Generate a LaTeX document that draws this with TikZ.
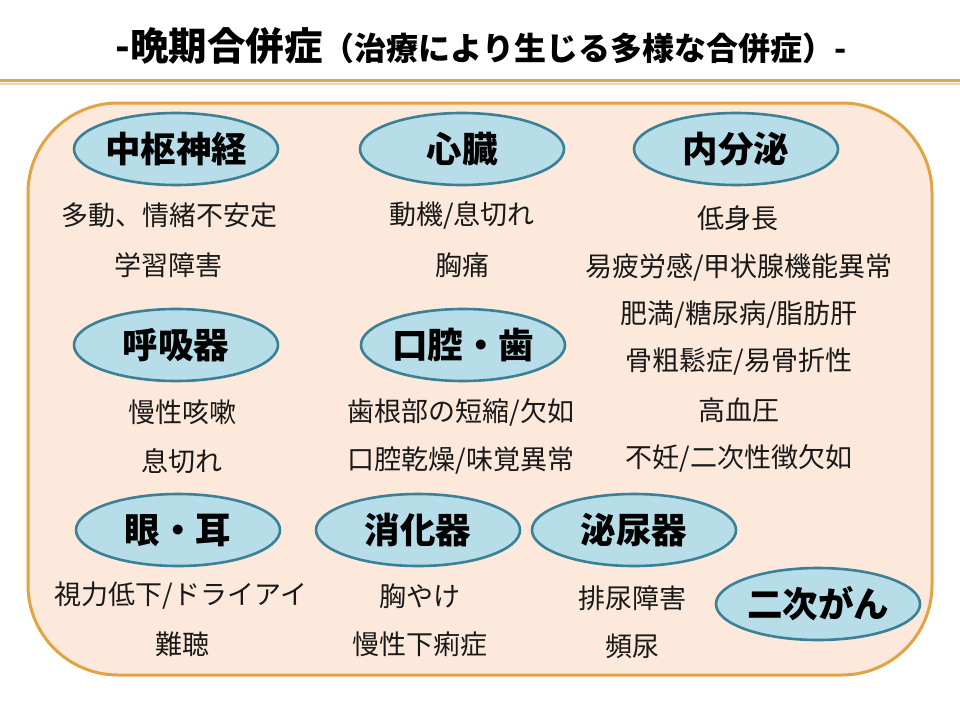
\documentclass[tikz,border=0pt]{standalone}
\usepackage{fontspec}
\setmainfont{Noto Sans CJK JP}
\usetikzlibrary{shapes.geometric}
\definecolor{framecol}{RGB}{226,163,68}
\definecolor{framefill}{RGB}{252,233,219}
\definecolor{ovalfill}{RGB}{183,221,232}
\definecolor{ovalline}{RGB}{58,128,150}
\definecolor{rulecol}{RGB}{226,166,72}
\tikzset{
  organ/.style={ellipse, draw=ovalline, line width=2.6pt, fill=ovalfill,
    minimum width=204pt, minimum height=72pt, inner sep=0pt,
    font=\bfseries\fontsize{35.5}{38}\selectfont},
  item/.style={inner sep=0pt, font=\fontsize{27}{30}\selectfont, text=black!90}
}
\begin{document}
\begin{tikzpicture}[x=1pt,y=-1pt]
\useasboundingbox[fill=white] (0,0) rectangle (960,720);
% title
\node[inner sep=0pt] (title) at (481,46)
  {\bfseries\fontsize{38.5}{42}\selectfont -晩期合併症\fontsize{32}{36}\selectfont （治療により生じる多様な合併症）-};
% rule
\draw[rulecol!45, line width=2pt] (0,83.5) -- (960,83.5);
\draw[rulecol, line width=3pt] (0,80) -- (960,80);
% frame
\draw[framecol, fill=framefill, line width=3pt, rounded corners=90pt] (28,103) rectangle (932,675);
% organ ellipses
\node[organ] (cns) at (176,149) {中枢神経};
\node[organ] (heart) at (462,149) {心臓};
\node[organ] (endo) at (736,149) {内分泌};
\node[organ] (resp) at (176,345) {呼吸器};
\node[organ] (oral) at (463,345) {口腔・歯};
\node[organ] (eye) at (178,530) {眼・耳};
\node[organ] (gi) at (418,530) {消化器};
\node[organ] (uro) at (634,530) {泌尿器};
\node[organ] (cancer) at (818,604) {二次がん};
% items
\node[item] (cns1) at (169,215) {多動、情緒不安定};
\node[item] (cns2) at (168,265) {学習障害};
\node[item] (h1) at (462,215) {動機/息切れ};
\node[item] (h2) at (462,265) {胸痛};
\node[item] (e1) at (738,218) {低身長};
\node[item] (e2) at (739,267) {易疲労感/甲状腺機能異常};
\node[item] (e3) at (739,315) {肥満/糖尿病/脂肪肝};
\node[item] (e4) at (739,362) {骨粗鬆症/易骨折性};
\node[item] (e5) at (739,410) {高血圧};
\node[item] (e6) at (739,458) {不妊/二次性徴欠如};
\node[item] (r1) at (182,412) {慢性咳嗽};
\node[item] (r2) at (182,461) {息切れ};
\node[item] (o1) at (461,412) {歯根部の短縮/欠如};
\node[item] (o2) at (461,461) {口腔乾燥/味覚異常};
\node[item] (y1) at (181,596) {視力低下/ドライアイ};
\node[item] (y2) at (182,644) {難聴};
\node[item] (g1) at (420,596) {胸やけ};
\node[item] (g2) at (420,644) {慢性下痢症};
\node[item] (u1) at (632,598) {排尿障害};
\node[item] (u2) at (632,646) {頻尿};
\end{tikzpicture}
\end{document}
